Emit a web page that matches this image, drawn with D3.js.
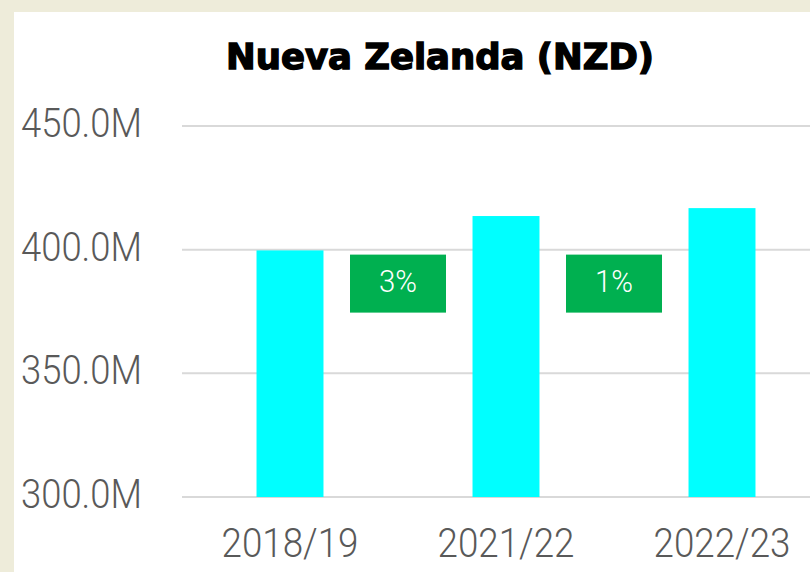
<!DOCTYPE html>
<html>
<head>
<meta charset="utf-8">
<script src="https://cdn.jsdelivr.net/npm/d3@7"></script>
<style>
  body { margin: 0; background: #eeecda; }
  svg { display: block; }
  .lbl { font-family: Roboto, "Open Sans", Lato, sans-serif; font-weight: 300; fill: #595959; }
</style>
</head>
<body>
<svg id="chart" width="810" height="572"></svg>
<script>
var categories = ["2018/19", "2021/22", "2022/23"];
var values = [399.7, 413.6, 416.8];          // millions NZD
var changes = ["3%", "1%"];
var yTicks = [300, 350, 400, 450];

var svg = d3.select("#chart"),
    width = +svg.attr("width"),
    height = +svg.attr("height");

// white panel over the beige frame
svg.append("rect")
  .attr("x", 14).attr("y", 12)
  .attr("width", width - 14).attr("height", height - 12)
  .attr("fill", "#ffffff");

var x = d3.scaleBand()
      .domain(categories)
      .range([182, 830])
      .paddingInner(0.69)
      .paddingOuter(0.345);

var y = d3.scaleLinear()
      .domain([300, 450])
      .range([497, 126]);

// gridlines
svg.append("g")
  .selectAll("line")
  .data(yTicks)
  .enter().append("line")
    .attr("x1", 182).attr("x2", width)
    .attr("y1", function(d) { return y(d); })
    .attr("y2", function(d) { return y(d); })
    .attr("stroke", "#d9d9d9")
    .attr("stroke-width", 2);

// y labels
svg.append("g")
  .selectAll("text")
  .data(yTicks)
  .enter().append("text")
    .attr("class", "lbl")
    .attr("x", 142)
    .attr("y", function(d) { return y(d) + 11; })
    .attr("text-anchor", "end")
    .attr("font-size", 40)
    .attr("textLength", 121)
    .attr("lengthAdjust", "spacingAndGlyphs")
    .text(function(d) { return d3.format(".1f")(d) + "M"; });

// bars
svg.append("g")
  .selectAll("rect")
  .data(values)
  .enter().append("rect")
    .attr("x", function(d, i) { return x(categories[i]); })
    .attr("width", x.bandwidth())
    .attr("y", function(d) { return y(d); })
    .attr("height", function(d) { return y(300) - y(d); })
    .attr("fill", "#00ffff");

// x labels
svg.append("g")
  .selectAll("text")
  .data(categories)
  .enter().append("text")
    .attr("class", "lbl")
    .attr("x", function(d) { return x(d) + x.bandwidth() / 2; })
    .attr("y", 557)
    .attr("text-anchor", "middle")
    .attr("font-size", 40)
    .attr("textLength", 137)
    .attr("lengthAdjust", "spacingAndGlyphs")
    .text(function(d) { return d; });

// change boxes between bars
var boxW = 96, boxH = 58;
var box = svg.append("g")
  .selectAll("g")
  .data(changes)
  .enter().append("g")
    .attr("transform", function(d, i) {
      var cx = (x(categories[i]) + x(categories[i + 1])) / 2 + x.bandwidth() / 2;
      return "translate(" + (cx - boxW / 2) + "," + y(398) + ")";
    });

box.append("rect")
  .attr("width", boxW)
  .attr("height", boxH)
  .attr("fill", "#00b050");

box.append("text")
  .attr("x", boxW / 2)
  .attr("y", 37)
  .attr("text-anchor", "middle")
  .attr("font-family", "Roboto, 'Open Sans', Lato, sans-serif")
  .attr("font-weight", 300)
  .attr("font-size", 32)
  .attr("textLength", 38)
  .attr("lengthAdjust", "spacingAndGlyphs")
  .attr("fill", "#ffffff")
  .text(function(d) { return d; });

// title
svg.append("text")
  .attr("x", 440)
  .attr("y", 69)
  .attr("text-anchor", "middle")
  .attr("font-family", "'Arial Black', 'DejaVu Sans', sans-serif")
  .attr("font-weight", 900)
  .attr("font-size", 35)
  .attr("textLength", 428)
  .attr("lengthAdjust", "spacingAndGlyphs")
  .attr("fill", "#000000")
  .attr("stroke", "#000000")
  .attr("stroke-width", 1.4)
  .text("Nueva Zelanda (NZD)");
</script>
</body>
</html>
